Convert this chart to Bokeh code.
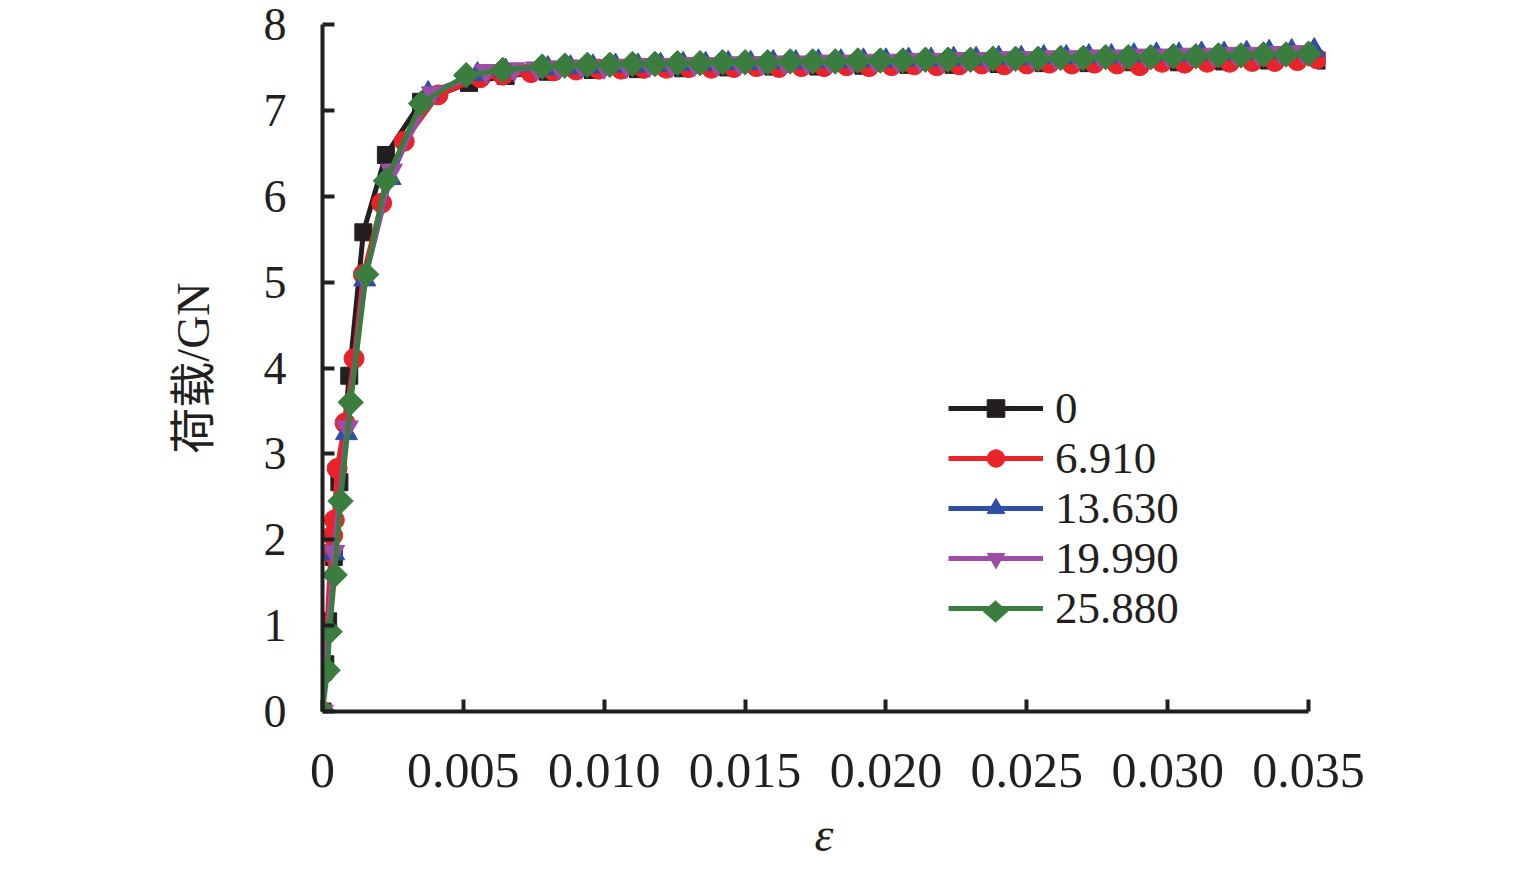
import math
from bokeh.plotting import figure
from bokeh.models import Range1d, FixedTicker, Legend, LegendItem, CustomJSTickFormatter, PolyAnnotation
from bokeh.embed import file_html
from bokeh.resources import INLINE

# ---------------- data ----------------
series_names = ["0", "6.910", "13.630", "19.990", "25.880"]

x_black = [0, 0.00010, 0.00020, 0.00040, 0.00060, 0.00095, 0.00145, 0.00225, 0.00350, 0.00520, 0.00650,
           0.0080, 0.0096, 0.0112, 0.0128, 0.0144, 0.0160, 0.0176, 0.0192, 0.0208, 0.0224, 0.0240,
           0.0256, 0.0272, 0.0288, 0.0304, 0.0320, 0.0336, 0.0356]
y_black = [0, 0.55, 1.05, 1.80, 2.67, 3.91, 5.58, 6.48, 7.10, 7.32, 7.40,
           7.45, 7.47, 7.48, 7.49, 7.50, 7.51, 7.51, 7.52, 7.53, 7.53, 7.54,
           7.55, 7.55, 7.56, 7.56, 7.57, 7.58, 7.58]

x_red = [0, 0.00007, 0.00030, 0.00036, 0.00042, 0.00052, 0.00080, 0.00112, 0.00145, 0.00210, 0.00290,
         0.00410, 0.00560, 0.00640,
         0.0074, 0.0082, 0.0090, 0.0098, 0.0106, 0.0114, 0.0122, 0.0130, 0.0138, 0.0146, 0.0154,
         0.0162, 0.0170, 0.0178, 0.0186, 0.0194, 0.0202, 0.0210, 0.0218, 0.0226, 0.0234, 0.0242,
         0.0250, 0.0258, 0.0266, 0.0274, 0.0282, 0.0290, 0.0298, 0.0306, 0.0314, 0.0322, 0.0330,
         0.0338, 0.0346, 0.0353]
y_red = [0, 0.45, 1.85, 2.05, 2.23, 2.83, 3.36, 4.11, 5.09, 5.92, 6.64,
         7.18, 7.38, 7.41,
         7.44, 7.46, 7.47, 7.48, 7.48, 7.49, 7.49, 7.50, 7.49, 7.50, 7.51,
         7.50, 7.51, 7.51, 7.52, 7.51, 7.52, 7.53, 7.52, 7.53, 7.54, 7.53,
         7.54, 7.55, 7.54, 7.55, 7.54, 7.52, 7.56, 7.55, 7.56, 7.56, 7.57,
         7.57, 7.58, 7.60]

x_blue = [0, 0.00040, 0.00085, 0.00150, 0.00240, 0.00375, 0.00550, 0.00650,
          0.0080, 0.0088, 0.0096, 0.0104, 0.0112, 0.0120, 0.0128, 0.0136, 0.0144, 0.0152, 0.0160,
          0.0168, 0.0176, 0.0184, 0.0192, 0.0200, 0.0208, 0.0216, 0.0224, 0.0232, 0.0240, 0.0248,
          0.0256, 0.0264, 0.0272, 0.0280, 0.0288, 0.0296, 0.0304, 0.0312, 0.0320, 0.0328, 0.0336,
          0.0344, 0.0352]
y_blue = [0, 1.84, 3.24, 5.03, 6.21, 7.20, 7.42, 7.46,
          7.49, 7.50, 7.51, 7.52, 7.52, 7.53, 7.54, 7.54, 7.55, 7.55, 7.56,
          7.56, 7.57, 7.57, 7.58, 7.58, 7.59, 7.59, 7.60, 7.60, 7.61, 7.61,
          7.62, 7.62, 7.63, 7.63, 7.64, 7.65, 7.65, 7.66, 7.66, 7.67, 7.68,
          7.69, 7.70]

x_purple = [0, 0.00040, 0.00088, 0.00150, 0.00245, 0.00390, 0.00580, 0.00680,
            0.0076, 0.0084, 0.0092, 0.0100, 0.0108, 0.0116, 0.0124, 0.0132, 0.0140, 0.0148, 0.0156,
            0.0164, 0.0172, 0.0180, 0.0188, 0.0196, 0.0204, 0.0212, 0.0220, 0.0228, 0.0236, 0.0244,
            0.0252, 0.0260, 0.0268, 0.0276, 0.0284, 0.0292, 0.0300, 0.0308, 0.0316, 0.0324, 0.0332,
            0.0340, 0.0348]
y_purple = [0, 1.86, 3.31, 5.05, 6.30, 7.20, 7.46, 7.48,
            7.49, 7.50, 7.51, 7.51, 7.52, 7.53, 7.53, 7.54, 7.54, 7.55, 7.55,
            7.56, 7.56, 7.57, 7.57, 7.58, 7.58, 7.59, 7.59, 7.60, 7.60, 7.61,
            7.61, 7.62, 7.62, 7.63, 7.63, 7.64, 7.64, 7.65, 7.65, 7.66, 7.66,
            7.67, 7.68]

x_green = [0, 0.00018, 0.00025, 0.00043, 0.00064, 0.00100, 0.00155, 0.00225, 0.00350, 0.00510, 0.00640,
           0.0078, 0.0086, 0.0094, 0.0102, 0.0110, 0.0118, 0.0126, 0.0134, 0.0142, 0.0150,
           0.0158, 0.0166, 0.0174, 0.0182, 0.0190, 0.0198, 0.0206, 0.0214, 0.0222, 0.0230,
           0.0238, 0.0246, 0.0254, 0.0262, 0.0270, 0.0278, 0.0286, 0.0294, 0.0302, 0.0310,
           0.0318, 0.0326, 0.0334, 0.0342, 0.0350]
y_green = [0, 0.48, 0.93, 1.59, 2.45, 3.60, 5.09, 6.18, 7.08, 7.41, 7.47,
           7.51, 7.52, 7.53, 7.53, 7.54, 7.54, 7.55, 7.55, 7.56, 7.56,
           7.56, 7.57, 7.57, 7.57, 7.58, 7.58, 7.58, 7.59, 7.59, 7.59,
           7.60, 7.60, 7.60, 7.61, 7.61, 7.62, 7.62, 7.62, 7.63, 7.63,
           7.64, 7.64, 7.65, 7.65, 7.66]

x_ticks = [0, 0.005, 0.010, 0.015, 0.020, 0.025, 0.030, 0.035]
y_ticks = [0, 1, 2, 3, 4, 5, 6, 7, 8]

# ---------------- figure ----------------
SERIF = "'Liberation Serif'"
CJK = "'Liberation Serif', 'Noto Sans CJK SC'"
AX = "#231f20"

p = figure(width=1528, height=863, output_backend="svg", toolbar_location=None,
           x_range=Range1d(0, 0.0356), y_range=Range1d(0, 8),
           min_border_left=322, min_border_right=203, min_border_top=24, min_border_bottom=150)
p.outline_line_color = None
p.xgrid.visible = False
p.ygrid.visible = False
p.background_fill_color = "white"
p.border_fill_color = "white"

for ax in (p.xaxis[0], p.yaxis[0]):
    ax.axis_line_color = AX
    ax.axis_line_width = 4
    ax.major_tick_line_color = AX
    ax.major_tick_line_width = 4
    ax.major_tick_in = 12
    ax.major_tick_out = 0
    ax.minor_tick_line_color = None
    ax.major_label_text_font = SERIF
    ax.major_label_text_color = AX
    ax.axis_label_text_color = AX
    ax.axis_label_text_font_style = "normal"

p.xaxis.ticker = FixedTicker(ticks=x_ticks)
p.xaxis.formatter = CustomJSTickFormatter(code="return tick == 0 ? '0' : tick.toFixed(3);")
p.xaxis.bounds = (0, 0.035)
p.xaxis.major_label_text_font_size = "50px"
p.xaxis.major_label_standoff = 42
p.xaxis.axis_label = "ε"
p.xaxis.axis_label_text_font = SERIF
p.xaxis.axis_label_text_font_style = "italic"
p.xaxis.axis_label_text_font_size = "48px"
p.xaxis.axis_label_standoff = 18

p.yaxis.ticker = FixedTicker(ticks=y_ticks)
p.yaxis.major_label_text_font_size = "46px"
p.yaxis.major_label_standoff = 36
p.yaxis.axis_label = "荷载/GN"
p.yaxis.axis_label_text_font = CJK
p.yaxis.axis_label_text_font_size = "46px"
p.yaxis.axis_label_standoff = 42

styles = [
    (x_black, y_black, "#231f20", "square", 17, 0.0),
    (x_red, y_red, "#e8232a", "circle", 20, 0.0),
    (x_blue, y_blue, "#2e4fa3", "triangle", 22, 0.0),
    (x_purple, y_purple, "#9c4ea3", "inverted_triangle", 22, 0.0),
    (x_green, y_green, "#3a7d3f", "square", 18, math.pi / 4),
]

# one single-row legend per series so the rows can sit 50 px apart
legend_x = 626
legend_rows_y = [277, 227, 177, 127, 77]
for i, (name, (xs, ys, col, mk, sz, ang)) in enumerate(zip(series_names, styles)):
    lr = p.line(xs, ys, line_color=col, line_width=5)
    sr = p.scatter(xs, ys, marker=mk, size=sz, angle=ang, fill_color=col, line_color=col)
    # the rotated-square marker cannot be rotated inside a Legend, so it is drawn separately
    item = LegendItem(label=name, renderers=[lr] if ang else [lr, sr])
    lg = Legend(items=[item], location=(legend_x, legend_rows_y[i]), padding=0, margin=0, spacing=0,
                glyph_width=95, glyph_height=44, label_height=44, label_standoff=12,
                label_text_font=SERIF, label_text_font_size="45px", label_text_color=AX,
                border_line_color=None, background_fill_alpha=0)
    p.add_layout(lg)

# legend diamond for the last series (frame-relative screen units, y measured upward)
cx, cy, hw, hh = 673, 100, 12.5, 11
p.add_layout(PolyAnnotation(xs=[cx - hw, cx, cx + hw, cx], ys=[cy, cy - hh, cy, cy + hh],
                            xs_units="screen", ys_units="screen",
                            fill_color=styles[4][2], fill_alpha=1.0, line_color=styles[4][2]))

open("out.html", "w").write(file_html(p, INLINE))
